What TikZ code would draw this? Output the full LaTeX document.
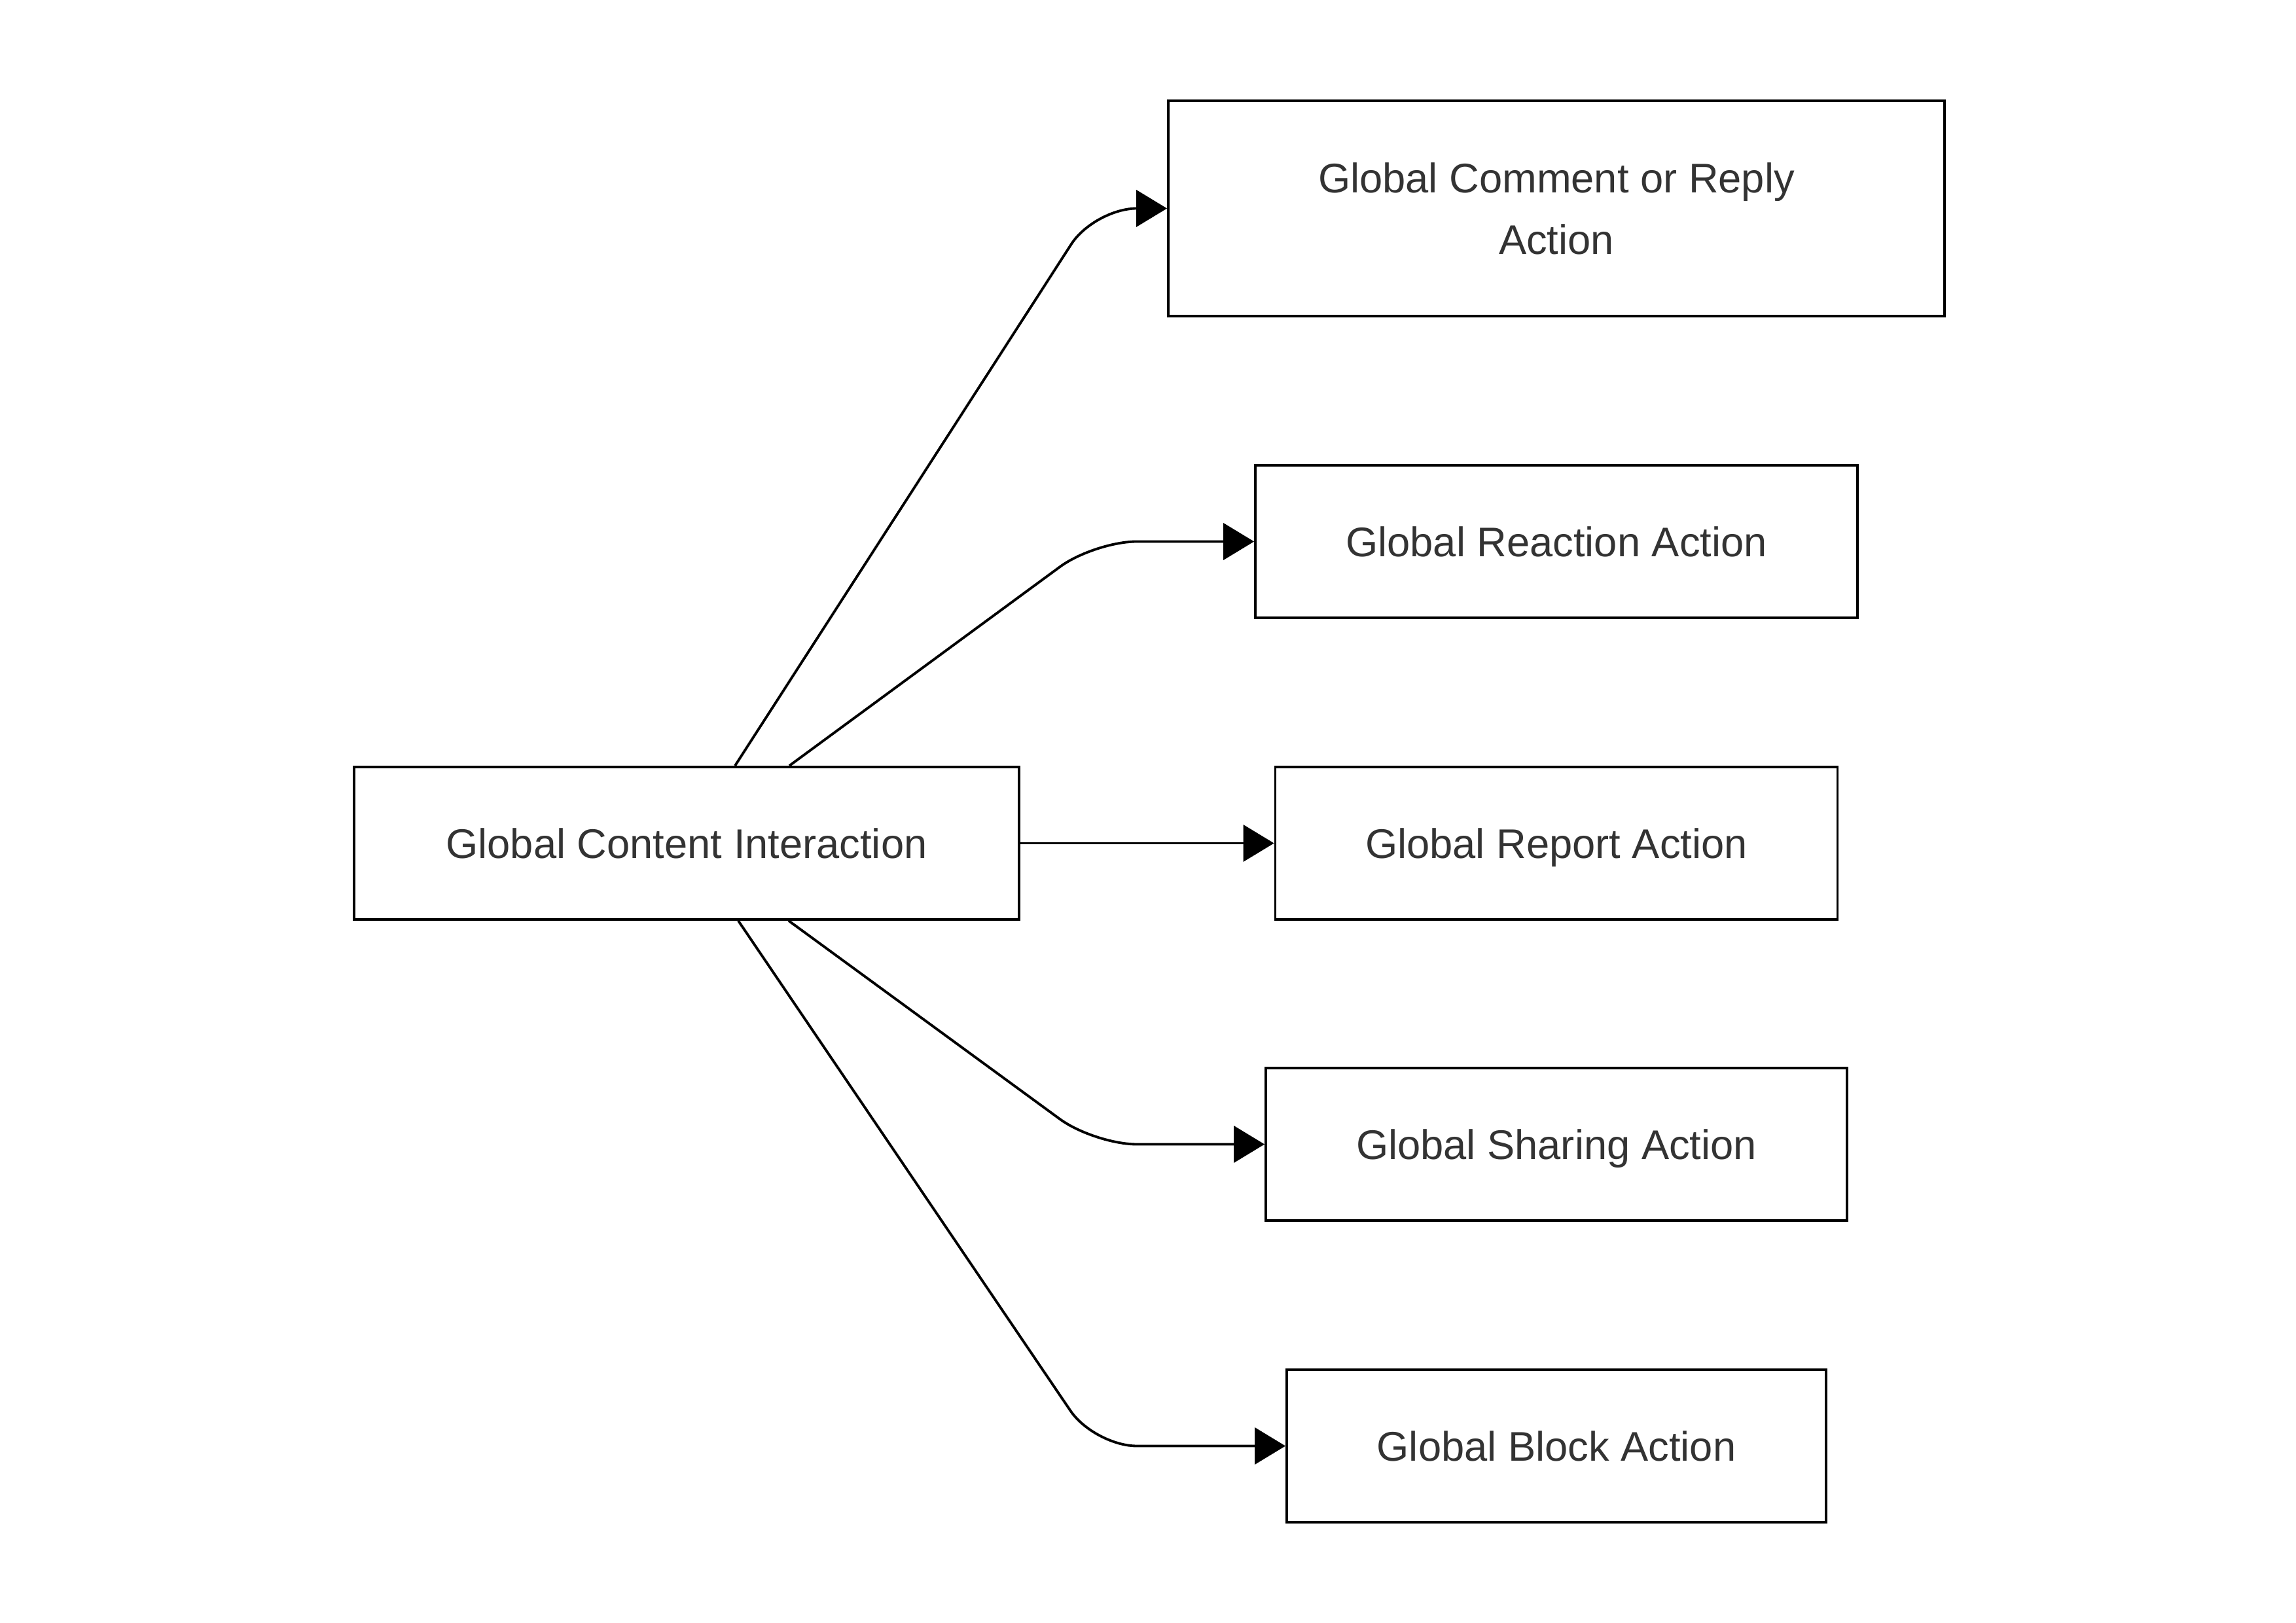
\documentclass[tikz,border=0pt]{standalone}
\usepackage{fontspec}
\setmainfont{Liberation Sans}
\usetikzlibrary{arrows.meta}
\definecolor{textgray}{HTML}{333333}
\begin{document}
\begin{tikzpicture}[
  box/.style={draw, line width=1.1pt, minimum height=2.33cm, align=center,
    text=textgray, font=\fontsize{18}{26.7}\selectfont},
  oneline/.style={box, text height=13pt, text depth=0pt},
  link/.style={line width=1.1pt, rounded corners=0.65cm,
    -{Triangle[length=0.47cm,width=0.56cm]}}
]
\useasboundingbox (0,0) rectangle (35.08,24.79);

\node[oneline, minimum width=10.16cm] (content) at (10.49,11.905) {Global Content Interaction};

\node[box, minimum width=11.86cm, minimum height=3.29cm] (comment) at (23.78,21.605) {Global Comment or Reply\\Action};
\node[oneline, minimum width=9.20cm] (reaction) at (23.78,16.515) {Global Reaction Action};
\node[oneline, minimum width=8.59cm] (report) at (23.78,11.905) {Global Report Action};
\node[oneline, minimum width=8.88cm] (sharing) at (23.78,7.305) {Global Sharing Action};
\node[oneline, minimum width=8.24cm] (block) at (23.78,2.695) {Global Block Action};

\coordinate (bend) at (16.72,0);

\draw[link] ([xshift=0.74cm]content.north) -- (comment.west -| bend) -- (comment.west);
\draw[link] ([xshift=1.57cm]content.north) -- (reaction.west -| bend) -- (reaction.west);
\draw[link] (content.east) -- (report.west);
\draw[link] ([xshift=1.56cm]content.south) -- (sharing.west -| bend) -- (sharing.west);
\draw[link] ([xshift=0.79cm]content.south) -- (block.west -| bend) -- (block.west);
\end{tikzpicture}
\end{document}
